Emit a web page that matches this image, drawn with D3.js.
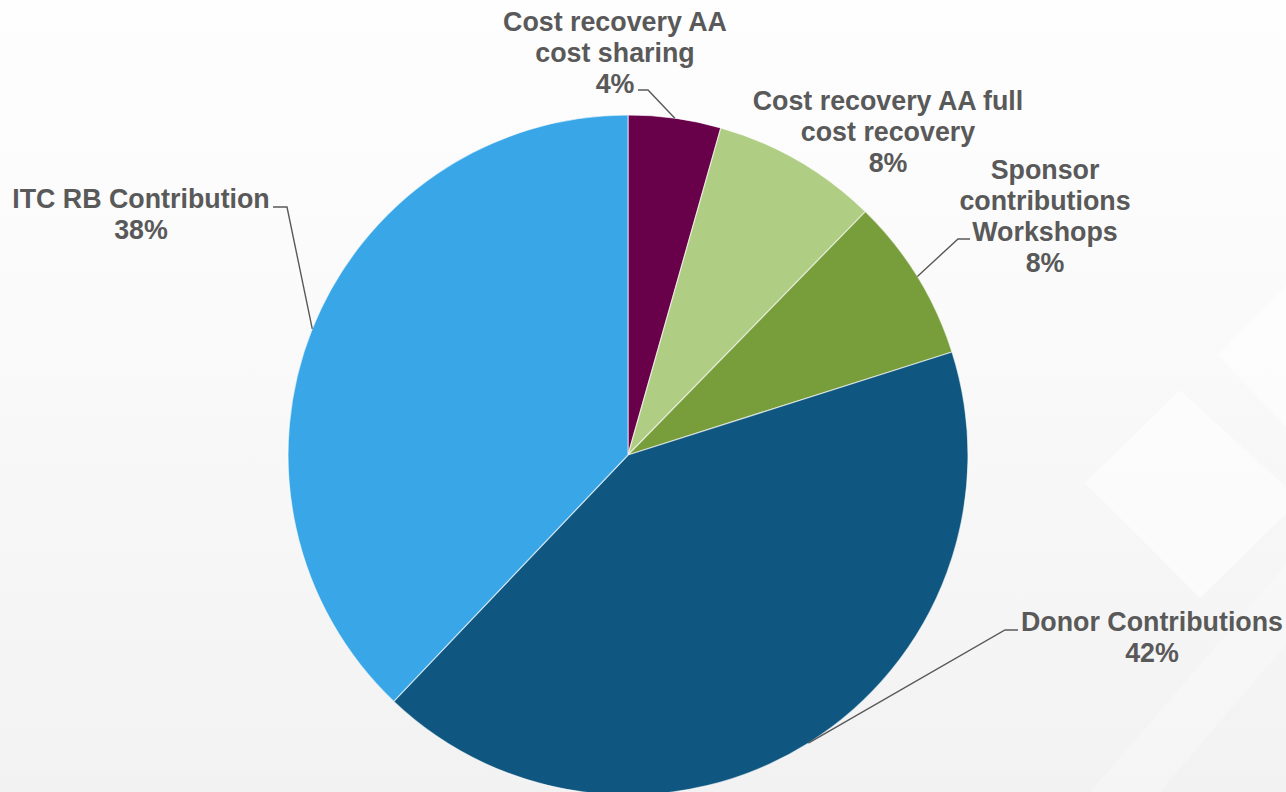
<!DOCTYPE html>
<html lang="en">
<head>
    <meta charset="UTF-8">
    <title>Funding sources</title>
    <script src="https://d3js.org/d3.v7.min.js"></script>
    <style>
        html, body { margin: 0; padding: 0; overflow: hidden; }
    </style>
</head>
<body>
    <div id="chart"></div>

    <script>
        // data (slices go clockwise from 12 o'clock)
        const labels = [
            ["Cost recovery AA", "cost sharing"],
            ["Cost recovery AA full", "cost recovery"],
            ["Sponsor", "contributions", "Workshops"],
            ["Donor Contributions"],
            ["ITC RB Contribution"]
        ];
        const values = [4.4, 7.9, 7.8, 42.0, 37.9];
        const percentLabels = ["4%", "8%", "8%", "42%", "38%"];
        const colors = ["#68004a", "#b0cd84", "#789d3b", "#0f5781", "#38a6e7"];

        const width = 1286, height = 792;
        const svg = d3.select("#chart").append("svg")
            .attr("width", width)
            .attr("height", height);

        // background ----------------------------------------------------
        const defs = svg.append("defs");
        const bg = defs.append("linearGradient")
            .attr("id", "bg").attr("x1", 0).attr("y1", 0).attr("x2", 0).attr("y2", 1);
        bg.append("stop").attr("offset", "0%").attr("stop-color", "#fefefe");
        bg.append("stop").attr("offset", "40%").attr("stop-color", "#fafafa");
        bg.append("stop").attr("offset", "100%").attr("stop-color", "#f2f2f2");
        svg.append("rect").attr("width", width).attr("height", height).attr("fill", "url(#bg)");

        // faint white diamonds on the right
        svg.append("polygon")
            .attr("points", "1180,390 1085,483 1200,598 1300,500")
            .attr("fill", "#ffffff").attr("opacity", 0.55);
        svg.append("polygon")
            .attr("points", "1217,355 1290,282 1290,430")
            .attr("fill", "#ffffff").attr("opacity", 0.5);
        svg.append("polygon")
            .attr("points", "1090,792 1290,560 1290,640 1160,792")
            .attr("fill", "#ffffff").attr("opacity", 0.25);

        // pie -----------------------------------------------------------
        const cx = 628, cy = 455, radius = 340;
        const pie = d3.pie().sort(null).value(d => d)(values);
        const arc = d3.arc().innerRadius(0).outerRadius(radius);

        const g = svg.append("g").attr("transform", `translate(${cx},${cy})`);
        g.selectAll("path")
            .data(pie)
            .join("path")
            .attr("d", arc)
            .attr("fill", (d, i) => colors[i])
            .attr("stroke", "#ffffff")
            .attr("stroke-width", 1.2)
            .attr("stroke-opacity", 0.6);

        // labels --------------------------------------------------------
        // label block centre x, first line y, and leader elbow
        const labelPos = [
            {x: 615, y: 31, elbow: [[638, 90], [648, 90]]},
            {x: 888, y: 110, elbow: null},
            {x: 1045, y: 179, elbow: [[970, 239], [958, 239]]},
            {x: 1152, y: 631, elbow: [[1018, 630], [1005, 630]]},
            {x: 141, y: 208, elbow: [[273, 207], [287, 207]]}
        ];
        const lineH = 31;

        labelPos.forEach((p, i) => {
            const lines = labels[i].concat([percentLabels[i]]);
            const t = svg.append("text")
                .attr("x", p.x)
                .attr("y", p.y)
                .attr("text-anchor", "middle")
                .style("font-family", "Arial, 'Liberation Sans', sans-serif")
                .style("font-weight", "bold")
                .style("font-size", "26.8px")
                .attr("fill", "#595959");
            lines.forEach((l, j) => {
                t.append("tspan").attr("x", p.x).attr("dy", j === 0 ? 0 : lineH).text(l);
            });

            if (p.elbow) {
                const mid = (pie[i].startAngle + pie[i].endAngle) / 2;
                const end = [cx + radius * Math.sin(mid), cy - radius * Math.cos(mid)];
                svg.append("path")
                    .attr("d", d3.line()(p.elbow.concat([end])))
                    .attr("fill", "none")
                    .attr("stroke", "#595959")
                    .attr("stroke-width", 1.4);
            }
        });
    </script>
</body>
</html>
